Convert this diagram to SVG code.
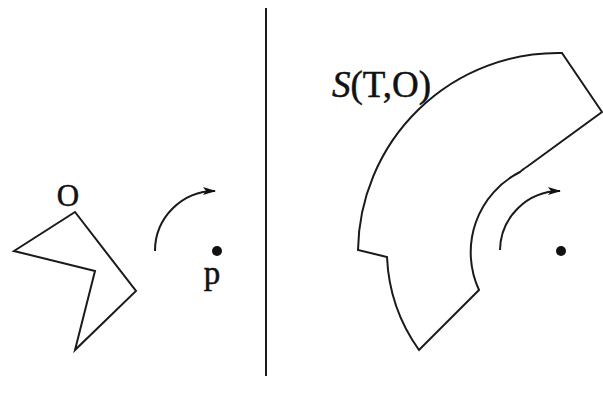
<svg xmlns="http://www.w3.org/2000/svg" width="603" height="396" viewBox="0 0 603 396">
<style>
.ln{fill:none;stroke:#1a1a1a;stroke-width:2;stroke-linejoin:miter;stroke-linecap:butt}
.arr{fill:none;stroke:#1a1a1a;stroke-width:2;marker-end:url(#ah)}
.dot{fill:#111}
.lbl{font-family:"Liberation Serif","Times New Roman",serif;fill:#111;stroke:#111;stroke-width:0.5}
</style>
<defs>
<marker id="ah" markerWidth="14" markerHeight="10" refX="12" refY="5" orient="auto" markerUnits="userSpaceOnUse">
<path d="M0,1 L13,5 L0,9 L3,5 Z" fill="#111"/>
</marker>
</defs>
<rect width="603" height="396" fill="#fff"/>
<line id="divider" x1="266" y1="8" x2="266" y2="376" stroke="#1a1a1a" stroke-width="2"/>
<g id="obstacle-O">
<polygon class="ln" points="75,212 14,251 95,271 75,350 136,291"/>
<text class="lbl" x="68" y="206" font-size="31" text-anchor="middle">O</text>
</g>
<g id="point-p-left">
<circle class="dot" cx="217" cy="251" r="5"/>
<text class="lbl" x="212" y="284" font-size="33" text-anchor="middle">p</text>
</g>
<g id="swept-region">
<path class="ln" d="M562,53 L602,112 L528,166 Q522,170 520,172 A90,90 0 0 0 479,290 L419,350 A173,173 0 0 1 387,257 L358,250 A200,200 0 0 1 562,53 Z"/>
<text class="lbl" x="332" y="97" font-size="37"><tspan font-style="italic">S</tspan>(T,O)</text>
</g>
<g id="point-p-right">
<circle class="dot" cx="561" cy="251" r="5"/>
</g>
<g id="connectors">
<path class="arr" d="M155,251 A60,60 0 0 1 215,191"/>
<path class="arr" d="M500,250 A60,60 0 0 1 560,191"/>
</g>
</svg>
